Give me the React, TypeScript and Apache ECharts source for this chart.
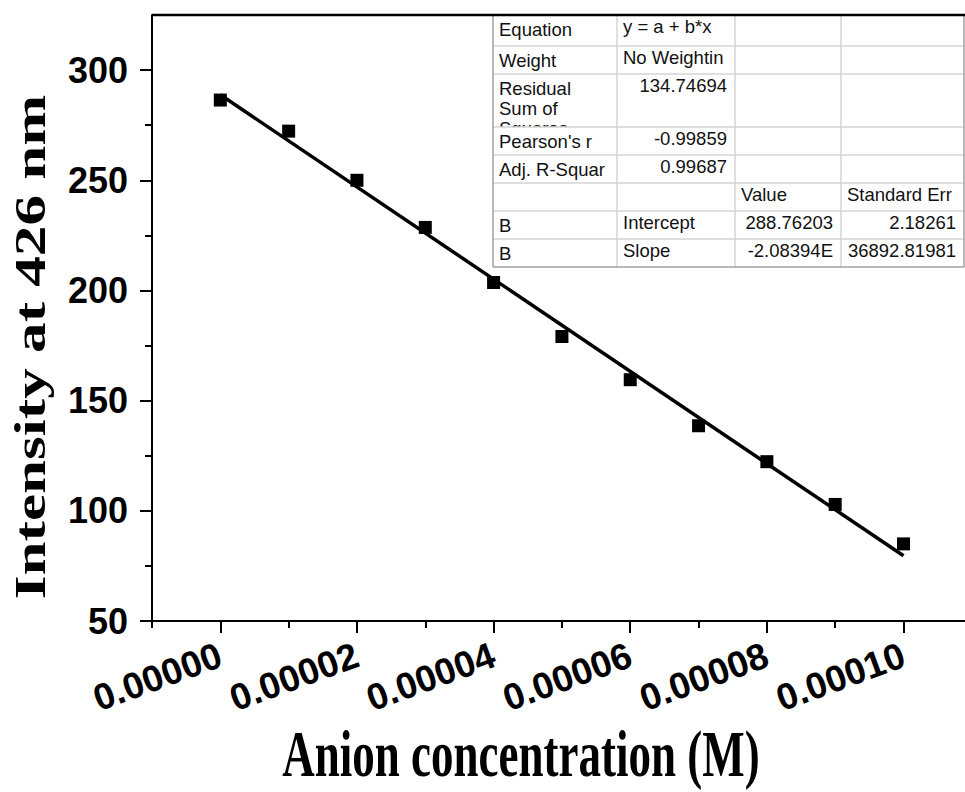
import React, { useEffect, useRef } from "react";
import * as echarts from "echarts";

// ---- data ----
const concentrations = [0, 0.00001, 0.00002, 0.00003, 0.00004, 0.00005, 0.00006, 0.00007, 0.00008, 0.00009, 0.0001];
const intensities = [286.4, 272.3, 250.0, 228.6, 203.6, 179.1, 159.5, 138.6, 122.3, 102.9, 85.0];
const fitX = [0, 0.0001];
const fitY = [288.8, 79.6];
const xMajorTicks = [0, 0.00002, 0.00004, 0.00006, 0.00008, 0.0001];
const xMinorTicks = [-0.00001, 0.00001, 0.00003, 0.00005, 0.00007, 0.00009];
const yMajorTicks = [50, 100, 150, 200, 250, 300];
const yMinorTicks = [75, 125, 175, 225, 275];

const xTitle = "Anion concentration (M)";
const yTitle = "Intensity at 426 nm";

const tableCol1 = ["Equation", "Weight", "Residual|Sum of|Squares", "Pearson's r", "Adj. R-Squar", "", "B", "B"];
const tableCol2 = ["y = a + b*x", "No Weightin", "134.74694", "-0.99859", "0.99687", "", "Intercept", "Slope"];
const tableCol3 = ["", "", "", "", "", "Value", "288.76203", "-2.08394E"];
const tableCol4 = ["", "", "", "", "", "Standard Err", "2.18261", "36892.81981"];

const isNum = (s: string) => /^-?[0-9]/.test(s);

export default function App() {
  const ref = useRef<HTMLDivElement>(null);
  useEffect(() => {
    document.body.style.margin = "0";
    const chart = echarts.init(ref.current!, null, { renderer: "svg" });

    const colX = [493, 617, 735, 841, 964];
    const rowY = [15, 46, 74, 127, 155, 183, 211, 239, 267];
    const tFont = '18.5px "Liberation Sans"';
    const graphic: any[] = [];
    graphic.push({ type: "rect", z: 10, shape: { x: colX[0], y: rowY[0], width: colX[4] - colX[0], height: rowY[8] - rowY[0] }, style: { fill: "#fff" } });
    const cols = [tableCol1, tableCol2, tableCol3, tableCol4];
    cols.forEach((col, ci) => {
      col.forEach((txt, ri) => {
        if (!txt) return;
        const lines = txt.split("|");
        const right = isNum(txt);
        lines.forEach((ln, li) => {
          graphic.push({
            type: "text",
            z: 11,
            x: right ? colX[ci + 1] - 8 : colX[ci] + 6,
            y: rowY[ri] + (ci === 0 ? 5 : 2) + li * 20,
            style: { text: ln, font: tFont, fill: "#111", align: right ? "right" : "left", verticalAlign: "top" },
          });
        });
      });
    });
    graphic.push({ type: "rect", z: 12, shape: { x: colX[0] + 1, y: rowY[3], width: colX[1] - colX[0] - 2, height: rowY[8] - rowY[3] - 1 }, style: { fill: "#fff" } });
    tableCol1.forEach((txt, ri) => {
      if (ri < 3 || !txt) return;
      graphic.push({ type: "text", z: 13, x: colX[0] + 6, y: rowY[ri] + 5, style: { text: txt, font: tFont, fill: "#111", align: "left", verticalAlign: "top" } });
    });
    rowY.slice(1, 8).forEach((y) => {
      graphic.push({ type: "line", z: 14, shape: { x1: colX[0], y1: y, x2: colX[4], y2: y }, style: { stroke: "#d4d4d4", lineWidth: 1.5 } });
    });
    colX.slice(1, 4).forEach((x) => {
      graphic.push({ type: "line", z: 14, shape: { x1: x, y1: rowY[0], x2: x, y2: rowY[8] }, style: { stroke: "#d4d4d4", lineWidth: 1.5 } });
    });
    graphic.push({ type: "line", z: 14, shape: { x1: colX[0], y1: rowY[0], x2: colX[0], y2: rowY[8] }, style: { stroke: "#a0a0a0", lineWidth: 1.5 } });
    graphic.push({ type: "line", z: 14, shape: { x1: colX[0], y1: rowY[8], x2: colX[4], y2: rowY[8] }, style: { stroke: "#a0a0a0", lineWidth: 1.5 } });
    graphic.push({ type: "line", z: 14, shape: { x1: colX[4], y1: rowY[0], x2: colX[4], y2: rowY[8] }, style: { stroke: "#a0a0a0", lineWidth: 1.5 } });
    graphic.push({ type: "line", z: 15, shape: { x1: 152, y1: 15, x2: 965, y2: 15 }, style: { stroke: "#000", lineWidth: 2.5 } });

    graphic.push({
      type: "text", z: 5, x: 521, y: 754, scaleY: 1.45,
      style: { text: xTitle, font: 'bold 45px "Liberation Serif"', fill: "#000", align: "center", verticalAlign: "middle" },
    });
    graphic.push({
      type: "text", z: 5, x: 31, y: 347, rotation: Math.PI / 2, scaleX: 1.39,
      style: { text: yTitle, font: 'bold 44px "Liberation Serif"', fill: "#000", align: "center", verticalAlign: "middle" },
    });

    const xMin = -0.00001, xMax = 0.000109;
    const axisStyle = { color: "#000", width: 2 };
    const labelStyle = { fontSize: 36, fontWeight: "bold", fontFamily: "Liberation Sans", color: "#000" };

    chart.setOption({
      animation: false,
      grid: { left: 152, top: 15, right: 0, bottom: 171, containLabel: false, outerBoundsMode: "none" },
      xAxis: [
        {
          type: "value", position: "bottom", min: xMin, max: xMax,
          axisLine: { show: true, onZero: false, lineStyle: axisStyle },
          axisTick: { show: true, customValues: xMajorTicks, length: 12, lineStyle: axisStyle },
          axisLabel: { ...labelStyle, fontSize: 37, customValues: xMajorTicks, rotate: 20, margin: 33, hideOverlap: false, showMinLabel: true, showMaxLabel: true, formatter: (v: number) => v.toFixed(5) },
          splitLine: { show: false },
        },
        {
          type: "value", position: "bottom", min: xMin, max: xMax,
          axisLine: { show: false, onZero: false },
          axisTick: { show: true, customValues: xMinorTicks, length: 7, lineStyle: axisStyle },
          axisLabel: { show: false },
          splitLine: { show: false },
        },
      ],
      yAxis: [
        {
          type: "value", position: "left", min: 50, max: 325,
          axisLine: { show: true, onZero: false, lineStyle: axisStyle },
          axisTick: { show: true, customValues: yMajorTicks, length: 12, lineStyle: axisStyle },
          axisLabel: { ...labelStyle, customValues: yMajorTicks, margin: 24 },
          splitLine: { show: false },
        },
        {
          type: "value", position: "left", min: 50, max: 325,
          axisLine: { show: false, onZero: false },
          axisTick: { show: true, customValues: yMinorTicks, length: 7, lineStyle: axisStyle },
          axisLabel: { show: false },
          splitLine: { show: false },
        },
      ],
      series: [
        {
          type: "line", xAxisIndex: 0, yAxisIndex: 0, z: 2,
          data: fitX.map((x, i) => [x, fitY[i]]),
          showSymbol: false, symbol: "none",
          lineStyle: { color: "#000", width: 3.5 },
        },
        {
          type: "scatter", xAxisIndex: 0, yAxisIndex: 0, z: 3,
          data: concentrations.map((x, i) => [x, intensities[i]]),
          symbol: "rect", symbolSize: 13,
          itemStyle: { color: "#000", opacity: 1 },
        },
      ],
      graphic,
    });
    return () => chart.dispose();
  }, []);
  return <div ref={ref} style={{ width: 965, height: 792 }} />;
}
